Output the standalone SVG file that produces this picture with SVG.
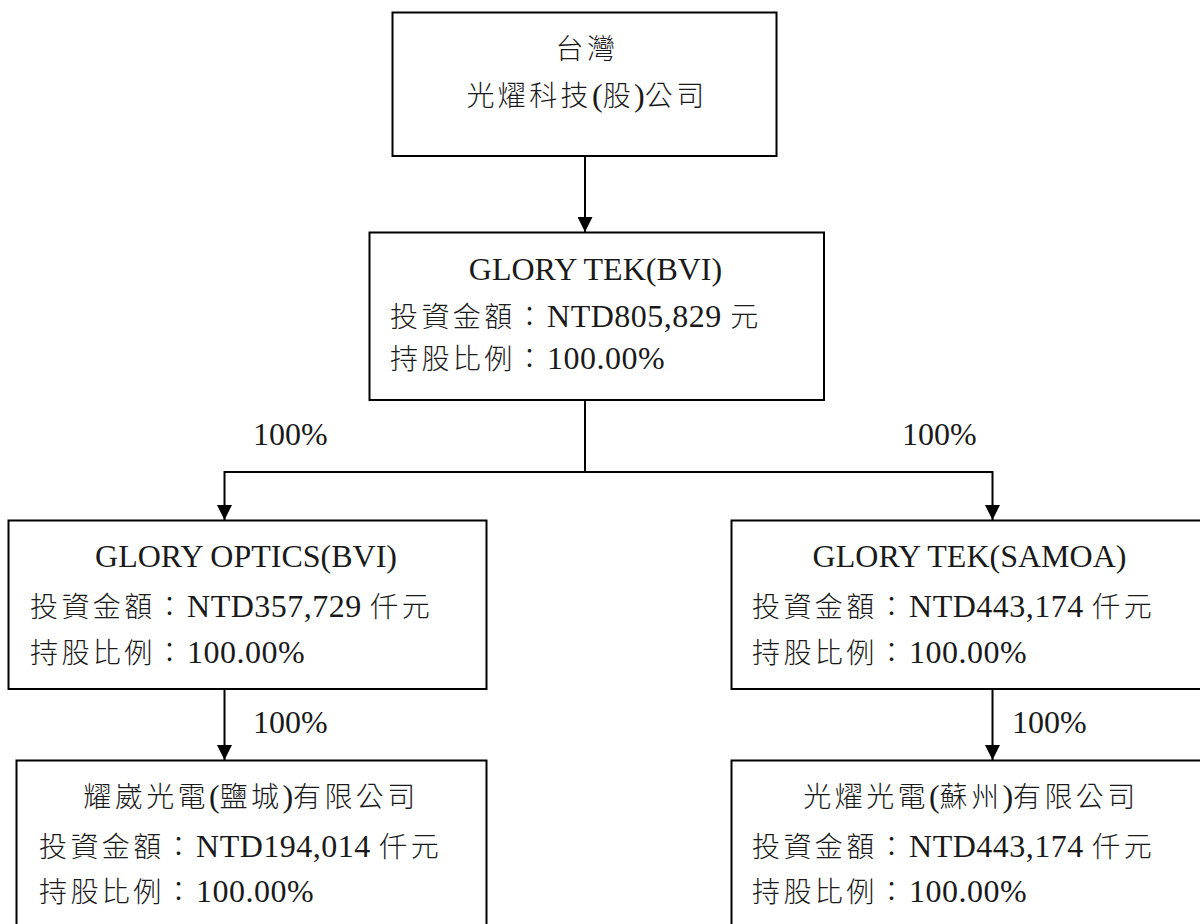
<svg xmlns="http://www.w3.org/2000/svg" width="1200" height="924" viewBox="0 0 1200 924">
<style>
.box{fill:#fff;stroke:#000;stroke-width:2}
.conn{fill:none;stroke:#000;stroke-width:2}
text{fill:#1a1a1a}
.l{font-family:"Liberation Serif","Times New Roman",serif;font-size:32px}
.a{letter-spacing:0.5px}
.c{font-family:"Noto Sans CJK TC","Noto Sans CJK SC",sans-serif;font-size:28px;font-weight:300;letter-spacing:3.4px}
.m{text-anchor:middle}
</style>
<defs>
<marker id="arr" markerUnits="userSpaceOnUse" markerWidth="15" markerHeight="15" refX="15" refY="7.5" orient="auto">
<path d="M0,0 L15,7.5 L0,15 z" fill="#000"/>
</marker>
</defs>
<rect width="1200" height="924" fill="#fff"/>
<g id="connectors">
<line class="conn" x1="585" y1="156" x2="585" y2="232" marker-end="url(#arr)"/>
<path class="conn" d="M585,400 V472 M224.5,472 H992.5"/>
<line class="conn" x1="224.5" y1="471" x2="224.5" y2="520" marker-end="url(#arr)"/>
<line class="conn" x1="992.5" y1="471" x2="992.5" y2="520" marker-end="url(#arr)"/>
<line class="conn" x1="224.5" y1="689" x2="224.5" y2="760" marker-end="url(#arr)"/>
<line class="conn" x1="992.5" y1="689" x2="992.5" y2="760" marker-end="url(#arr)"/>
<text class="l" x="253" y="445">100%</text>
<text class="l" x="902" y="445">100%</text>
<text class="l" x="253" y="733">100%</text>
<text class="l" x="1012" y="733">100%</text>
</g>
<g id="node-taiwan">
<rect class="box" x="392.5" y="12.5" width="384" height="143.5"/>
<text class="c m" x="587" y="59">台灣</text>
<text class="m" x="587" y="106"><tspan class="c">光燿科技</tspan><tspan class="l">(</tspan><tspan class="c">股</tspan><tspan class="l">)</tspan><tspan class="c">公司</tspan></text>
</g>
<g id="node-glorytek-bvi">
<rect class="box" x="369.5" y="232.5" width="454.5" height="167.5"/>
<text class="l m" x="595.5" y="280">GLORY TEK(BVI)</text>
<text x="390" y="327"><tspan class="c">投資金額：</tspan><tspan class="l a">NTD805,829 </tspan><tspan class="c">元</tspan></text>
<text x="390" y="369"><tspan class="c">持股比例：</tspan><tspan class="l a">100.00%</tspan></text>
</g>
<g id="node-gloryoptics-bvi">
<rect class="box" x="8.5" y="520.5" width="478" height="168.5"/>
<text class="l m" x="246" y="567">GLORY OPTICS(BVI)</text>
<text x="30" y="617"><tspan class="c">投資金額：</tspan><tspan class="l a">NTD357,729 </tspan><tspan class="c">仟元</tspan></text>
<text x="30" y="663"><tspan class="c">持股比例：</tspan><tspan class="l a">100.00%</tspan></text>
</g>
<g id="node-glorytek-samoa">
<rect class="box" x="731.5" y="520.5" width="500" height="168.5"/>
<text class="l m" x="969.5" y="567">GLORY TEK(SAMOA)</text>
<text x="752" y="617"><tspan class="c">投資金額：</tspan><tspan class="l a">NTD443,174 </tspan><tspan class="c">仟元</tspan></text>
<text x="752" y="663"><tspan class="c">持股比例：</tspan><tspan class="l a">100.00%</tspan></text>
</g>
<g id="node-yancheng">
<rect class="box" x="16.5" y="760.5" width="470" height="200"/>
<text class="m" x="251" y="807"><tspan class="c">耀崴光電</tspan><tspan class="l">(</tspan><tspan class="c">鹽城</tspan><tspan class="l">)</tspan><tspan class="c">有限公司</tspan></text>
<text x="39" y="857"><tspan class="c">投資金額：</tspan><tspan class="l a">NTD194,014 </tspan><tspan class="c">仟元</tspan></text>
<text x="39" y="902"><tspan class="c">持股比例：</tspan><tspan class="l a">100.00%</tspan></text>
</g>
<g id="node-suzhou">
<rect class="box" x="731.5" y="760.5" width="500" height="200"/>
<text class="m" x="971" y="807"><tspan class="c">光燿光電</tspan><tspan class="l">(</tspan><tspan class="c">蘇州</tspan><tspan class="l">)</tspan><tspan class="c">有限公司</tspan></text>
<text x="752" y="857"><tspan class="c">投資金額：</tspan><tspan class="l a">NTD443,174 </tspan><tspan class="c">仟元</tspan></text>
<text x="752" y="902"><tspan class="c">持股比例：</tspan><tspan class="l a">100.00%</tspan></text>
</g>
</svg>
